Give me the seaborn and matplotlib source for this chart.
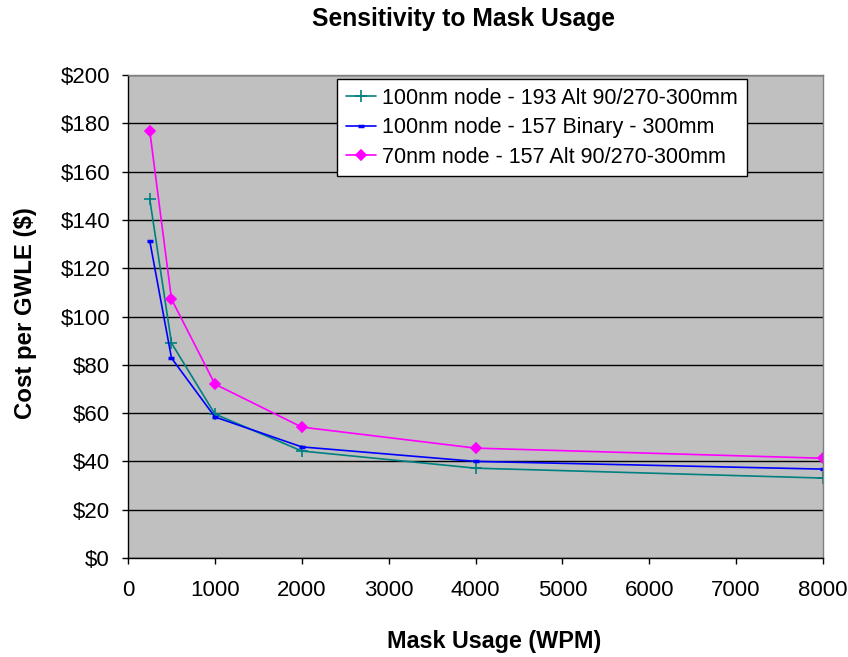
import matplotlib
matplotlib.use("Agg")
import matplotlib.pyplot as plt
import seaborn as sns
import pandas as pd
from matplotlib.ticker import FuncFormatter, MultipleLocator

# Mask usage (wafers per mask) and cost per GWLE for each scenario
wpm = [250, 500, 1000, 2000, 4000, 8000]
cost_100_193_alt = [148.6, 89.0, 59.6, 44.3, 37.2, 33.1]
cost_100_157_bin = [131.3, 82.8, 58.4, 46.0, 40.0, 36.8]
cost_70_157_alt = [176.8, 107.2, 72.0, 54.2, 45.5, 41.3]

series_names = [
    "100nm node - 193 Alt 90/270-300mm",
    "100nm node - 157 Binary - 300mm",
    "70nm node - 157 Alt 90/270-300mm",
]
colors = ["#008080", "#0000FF", "#FF00FF"]
markers = ["+", "_", "D"]
marker_sizes = [8, 5, 5]
marker_edges = [1.2, 2.5, 1.2]

df = pd.concat([
    pd.DataFrame({"WPM": wpm, "Cost": vals, "Series": name})
    for name, vals in zip(series_names, [cost_100_193_alt, cost_100_157_bin, cost_70_157_alt])
])

sns.set_style("white")
plt.rcParams["font.family"] = ["Liberation Sans", "DejaVu Sans"]
plt.rcParams.update({
    "text.color": "black",
    "axes.labelcolor": "black",
    "xtick.color": "black",
    "ytick.color": "black",
})

fig = plt.figure(figsize=(8.48, 6.57), dpi=100)
ax = fig.add_axes([0.151, 0.1507, 0.8195, 0.7351])
ax.set_facecolor("#C0C0C0")

for name, col, mk, ms, mew in zip(series_names, colors, markers, marker_sizes, marker_edges):
    sub = df[df["Series"] == name]
    sns.lineplot(data=sub, x="WPM", y="Cost", ax=ax, color=col, marker=mk,
                 markersize=ms, markeredgecolor=col, markerfacecolor=col,
                 markeredgewidth=mew, linewidth=1.2, label=name)

ax.set_xlim(0, 8000)
ax.set_ylim(0, 200)
ax.xaxis.set_major_locator(MultipleLocator(1000))
ax.yaxis.set_major_locator(MultipleLocator(20))
ax.yaxis.set_major_formatter(FuncFormatter(lambda v, p: f"${v:.0f}"))

ax.yaxis.grid(True, color="black", linewidth=1.0)
ax.set_axisbelow(True)

for side in ["left", "bottom"]:
    ax.spines[side].set_color("black")
    ax.spines[side].set_linewidth(1.0)
for side in ["top", "right"]:
    ax.spines[side].set_color("#808080")
    ax.spines[side].set_linewidth(1.0)

ax.tick_params(axis="both", which="major", direction="out", length=4.5, width=1,
               color="black", labelsize=16, left=True, bottom=True)
ax.tick_params(axis="y", pad=8.5)
ax.tick_params(axis="x", pad=11.5)

ax.set_xlabel("Mask Usage (WPM)", fontsize=16.8, fontweight="bold")
ax.set_ylabel("Cost per GWLE ($)", fontsize=17.3, fontweight="bold")
ax.xaxis.set_label_coords(0.527, -0.172)
ax.yaxis.set_label_coords(-0.147, 0.508)
ax.xaxis.label.set_va("center")
ax.yaxis.label.set_va("center")
fig.text(0.547, 0.971, "Sensitivity to Mask Usage", fontsize=17.7,
         fontweight="bold", ha="center", va="center")

leg = ax.legend(loc="upper left", bbox_to_anchor=(0.3007, 0.9917), fontsize=15.5,
                frameon=True, fancybox=False, edgecolor="black", framealpha=1,
                borderpad=0.4, handlelength=1.4, handletextpad=0.3,
                labelspacing=0.4, borderaxespad=0)
leg.get_frame().set_linewidth(1.0)

fig.savefig("out.png", dpi=100, facecolor="white")
